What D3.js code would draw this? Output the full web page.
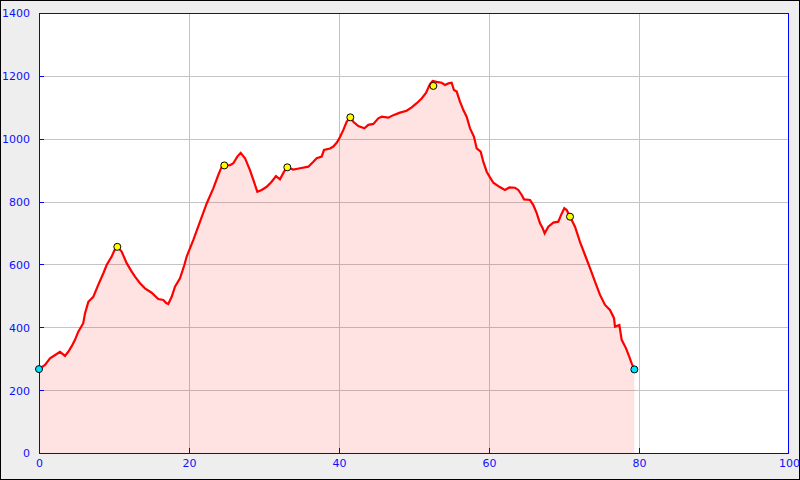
<!DOCTYPE html>
<html><head><meta charset="utf-8">
<script src="https://cdn.jsdelivr.net/npm/d3@7"></script>
<style>html,body{margin:0;padding:0;background:#eeeeee;}svg{display:block;}</style>
</head><body>
<script>
const distKm = [0,0.8,1.47,2.36,2.8,3.47,3.9,4.36,4.8,5.24,5.9,6.13,6.58,7.24,7.9,8.58,9.02,9.69,10.04,10.44,11.02,11.69,12.36,12.8,13.47,14.13,15.02,15.9,16.58,16.93,17.24,17.69,18.13,18.8,19.38,19.69,20.58,21.47,22.36,23.24,23.91,24.36,24.71,25.47,25.91,26.44,26.89,27.47,28.13,28.67,29.11,29.69,30.36,31.02,31.6,32.13,32.67,33.11,33.91,34.8,35.91,36.58,37.02,37.69,38.0,38.8,39.24,39.69,40.04,40.58,41.02,41.51,41.91,42.58,43.38,43.91,44.58,45.24,45.69,46.58,47.24,48.13,49.02,49.69,50.36,51.02,51.6,52.13,52.49,53.02,53.69,54.13,54.58,55.02,55.33,55.69,56.13,56.58,57.02,57.47,58.0,58.36,58.89,59.24,59.69,60.13,60.58,61.38,62.13,62.71,63.47,63.91,64.36,64.67,65.47,65.91,66.36,66.8,67.16,67.42,67.91,68.58,69.24,69.6,70.04,70.36,70.8,71.47,72.13,72.8,73.47,74.13,74.8,75.47,76.13,76.67,76.8,77.38,77.69,78.27,78.71,79.02,79.38];
const elevation = [267,280,301,315,322,309,322,340,360,386,413,444,481,497,535,572,598,625,644,656,641,604,577,561,540,524,510,490,487,478,474,497,529,556,598,625,678,736,794,842,885,911,915,916,922,943,955,938,900,863,831,837,847,863,881,871,895,909,902,906,911,927,938,943,964,969,975,987,1001,1028,1054,1068,1054,1040,1033,1044,1047,1065,1070,1067,1075,1083,1089,1100,1113,1128,1146,1174,1184,1181,1178,1171,1176,1178,1155,1150,1118,1091,1070,1033,1006,969,959,927,895,877,860,847,837,845,844,837,821,807,805,789,763,731,715,699,720,733,736,757,779,773,752,720,672,630,588,545,503,471,455,429,402,407,360,333,306,285,266];
const endKm = [0, 79.38];
const endElev = [267, 266];
const peakKm = [10.44, 24.71, 33.11, 41.51, 52.58, 70.8];
const peakElev = [656, 915, 909, 1068, 1168, 752];
const xTicks = [0,20,40,60,80,100];
const yTicks = [0,200,400,600,800,1000,1200,1400];

const W=800,H=480, L=39, R=789, T=13, B=453;
const svg = d3.select("body").append("svg").attr("width",W).attr("height",H);
svg.append("rect").attr("x",0.5).attr("y",0.5).attr("width",W-1).attr("height",H-1)
  .attr("fill","#eeeeee").attr("stroke","#000").attr("stroke-width",1);
svg.append("rect").attr("x",L).attr("y",T).attr("width",R-L).attr("height",B-T).attr("fill","#fff");

const x = d3.scaleLinear().domain([0,100]).range([L,R]);
const y = d3.scaleLinear().domain([0,1400]).range([B,T]);
const pts = distKm.map((d,i)=>[d,elevation[i]]);

// grid
const g = svg.append("g").attr("shape-rendering","crispEdges");
g.selectAll(".gx").data(xTicks.slice(1,-1)).join("line")
  .attr("x1",d=>Math.round(x(d))+0.5).attr("x2",d=>Math.round(x(d))+0.5).attr("y1",T).attr("y2",B)
  .attr("stroke","#c4c4c4");
g.selectAll(".gy").data(yTicks.slice(1,-1)).join("line")
  .attr("y1",d=>Math.round(y(d))+0.5).attr("y2",d=>Math.round(y(d))+0.5).attr("x1",L).attr("x2",R)
  .attr("stroke","#c4c4c4");

// fill
const area = d3.area().x(d=>x(d[0])).y0(y(0)).y1(d=>y(d[1]));
svg.append("path").datum(pts).attr("d",area).attr("fill","rgba(255,40,40,0.13)");

// line
const line = d3.line().x(d=>x(d[0])).y(d=>y(d[1]));
svg.append("path").datum(pts).attr("d",line).attr("fill","none").attr("stroke","#ff0000")
  .attr("stroke-width",2.2).attr("stroke-linejoin","miter");

// axes
const axB = d3.axisBottom(x).tickValues(xTicks).tickFormat(d3.format("d")).tickSize(0).tickPadding(6);
const axL = d3.axisLeft(y).tickValues(yTicks).tickFormat(d3.format("d")).tickSize(0).tickPadding(9);
const gb = svg.append("g").attr("transform",`translate(0,${B})`).call(axB);
const gl = svg.append("g").attr("transform",`translate(${L},0)`).call(axL);
[gb,gl].forEach(a=>{a.select(".domain").remove();
  a.selectAll("text").attr("fill","#1010ff").style("font-family","DejaVu Sans").style("font-size","11px");});
gl.selectAll("text").attr("dy","0.36em");
gb.selectAll("text").attr("dy","0.71em");

// inward ticks
const tk = svg.append("g").attr("stroke","#0000ff").attr("shape-rendering","crispEdges");
tk.selectAll(".tx").data(xTicks.slice(1,-1)).join("line")
  .attr("x1",d=>Math.round(x(d))+0.5).attr("x2",d=>Math.round(x(d))+0.5).attr("y1",B).attr("y2",B-5);
tk.selectAll(".ty").data(yTicks.slice(1,-1)).join("line")
  .attr("y1",d=>Math.round(y(d))+0.5).attr("y2",d=>Math.round(y(d))+0.5).attr("x1",L).attr("x2",L+5);
svg.append("rect").attr("x",L+0.5).attr("y",T+0.5).attr("width",R-L-1).attr("height",B-T)
  .attr("fill","none").attr("stroke","#0000ff").attr("shape-rendering","crispEdges");

// markers
svg.selectAll(".pk").data(peakKm).join("circle")
  .attr("cx",d=>x(d)).attr("cy",(d,i)=>y(peakElev[i])).attr("r",3.5)
  .attr("fill","#ffff00").attr("stroke","#000").attr("stroke-width",1);
svg.selectAll(".en").data(endKm).join("circle")
  .attr("cx",d=>x(d)).attr("cy",(d,i)=>y(endElev[i])).attr("r",3.5)
  .attr("fill","#00e5ff").attr("stroke","#000").attr("stroke-width",1);
</script>
</body></html>
